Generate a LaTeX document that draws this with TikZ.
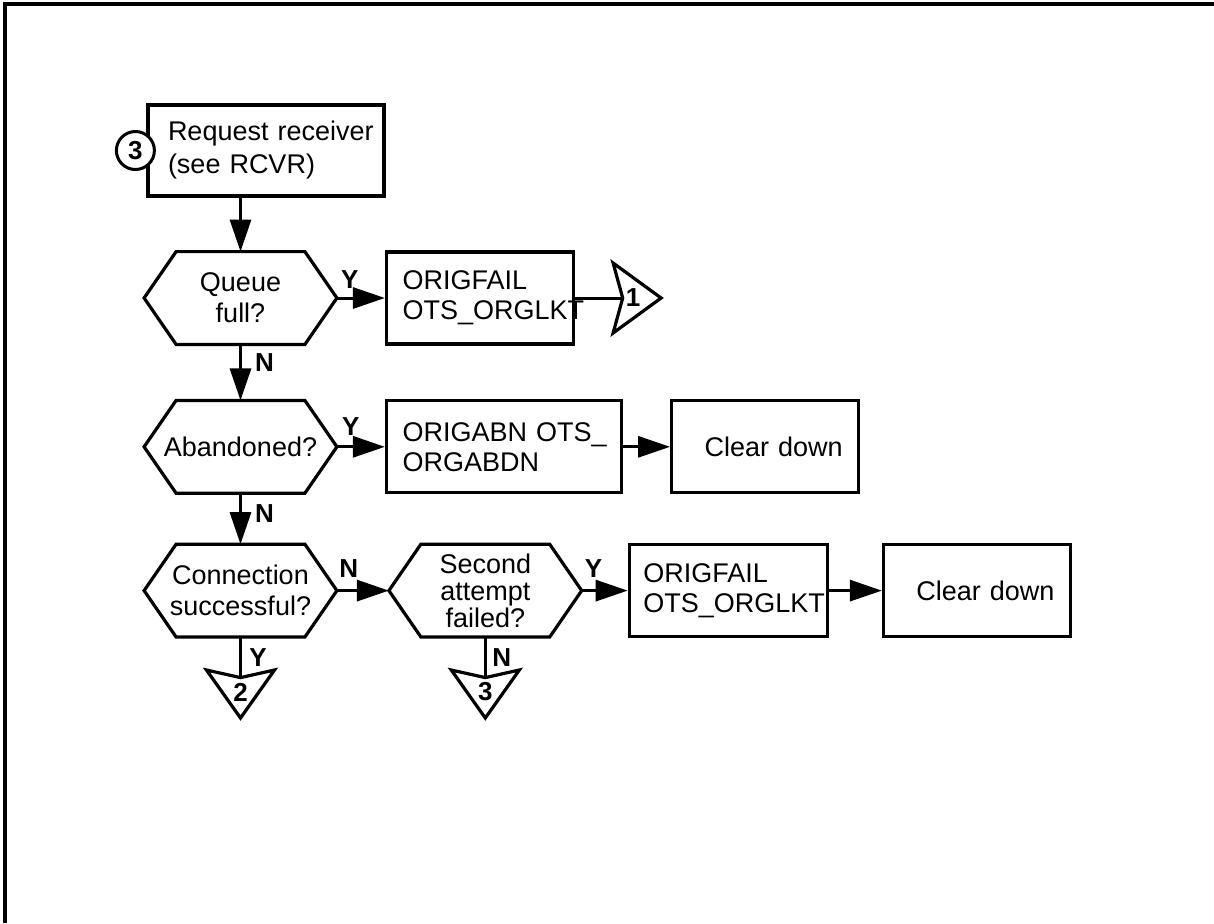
\documentclass[tikz,border=0pt]{standalone}
\usepackage{fontspec}
\setmainfont{Liberation Sans}
\usetikzlibrary{positioning, arrows.meta}

\tikzset{
    box/.style={draw, line width=1.6pt, minimum height=46pt, inner xsep=8pt, align=left,
        font=\fontsize{13.5pt}{15pt}\selectfont},
    hexa/.style={minimum width=96pt, minimum height=46pt, inner sep=0pt, align=center,
        font=\fontsize{13.5pt}{15.5pt}\selectfont},
    outline/.style={line width=1.6pt, line join=miter},
    offp/.style={minimum width=10pt, minimum height=14pt, inner sep=0pt,
        font=\bfseries\fontsize{13pt}{14pt}\selectfont},
    yn/.style={inner sep=0pt, font=\bfseries\fontsize{13pt}{14pt}\selectfont},
    arr/.style={line width=1.5pt, -{Triangle[length=16pt, width=10.5pt]}},
    ln/.style={line width=1.5pt}
}

\begin{document}
\begin{tikzpicture}[x=0.5pt, y=-0.5pt]
    \useasboundingbox (0,0) rectangle (1214,923);
    \draw[line width=2pt] (5,923) -- (5,3.5) -- (1214,3.5);

    \node[hexa] (q) at (240.5,298) {Queue\\full?};
    \node[box, text width=98pt, inner xsep=10pt, inner ysep=1pt, minimum height=45.5pt,
        above=27pt of q, xshift=12.75pt, font=\fontsize{13.5pt}{16.5pt}\selectfont] (r)
        {\mbox{Request receiver}\\(see RCVR)};
    \node[circle, draw, line width=1.5pt, fill=white, minimum size=19pt, inner sep=0pt,
        font=\bfseries\fontsize{13pt}{14pt}\selectfont] (k) at ([xshift=-5.5pt]r.west) {3};
    \node[hexa, below=28pt of q] (a) {Abandoned?};
    \node[hexa, below=25.5pt of a] (c) {Connection\\successful?};
    \node[hexa, right=26pt of c, font=\fontsize{13.5pt}{13.5pt}\selectfont] (s) {Second\\attempt\\failed?};

    \node[box, text width=77.5pt, right=24pt of q] (f1) {ORIGFAIL\\\mbox{OTS\_ORGLKT}};
    \node[box, text width=101.5pt, right=24pt of a] (o) {\mbox{ORIGABN OTS\_}\\ORGABDN};
    \node[box, text width=77.5pt, align=right, right=23.5pt of o] (d1) {Clear down};
    \node[box, text width=85pt, inner xsep=7pt, right=23pt of s] (f2) {ORIGFAIL\\\mbox{OTS\_ORGLKT}};
    \node[box, text width=77.5pt, align=right, right=26.5pt of f2] (d2) {Clear down};

    \node[offp] (t1) at ([xshift=29pt]f1.east) {1};
    \node[offp] (t2) at ([yshift=-27.5pt]c.south) {2};
    \node[offp] (t3) at ([yshift=-27.5pt]s.south) {3};

    \foreach \n in {q,a,c,s}
        \draw[outline] ([xshift=16pt]\n.north west) -- ([xshift=-16pt]\n.north east) -- (\n.east)
            -- ([xshift=-16pt]\n.south east) -- ([xshift=16pt]\n.south west) -- (\n.west) -- cycle;
    \draw[outline] (t1.west) -- ([shift={(-10pt,17.5pt)}]t1.center) -- ([xshift=14pt]t1.center)
        -- ([shift={(-10pt,-17.5pt)}]t1.center) -- cycle;
    \foreach \n in {t2,t3}
        \draw[outline] (\n.north) -- ([shift={(17pt,11pt)}]\n.center) -- ([yshift=-13pt]\n.center)
            -- ([shift={(-17pt,11pt)}]\n.center) -- cycle;

    \draw[arr] (q.north |- r.south) -- (q.north);
    \draw[arr] (q.east) -- node[yn, pos=0.27, above=3.9pt] (yq) {Y} (f1.west);
    \draw[ln] (f1.east) -- (t1.west);
    \draw[arr] (q.south) -- node[yn, pos=0.33, right=6.5pt] (nq) {N} (a.north);
    \draw[arr] (a.east) -- node[yn, pos=0.29, above=4.9pt] (ya) {Y} (o.west);
    \draw[arr] (o.east) -- (d1.west);
    \draw[arr] (a.south) -- node[yn, pos=0.4, right=6.5pt] (na) {N} (c.north);
    \draw[arr] (c.east) -- node[yn, pos=0.23, above=5.9pt] (nc) {N} (s.west);
    \draw[ln] (c.south) -- node[yn, pos=0.5, right=3.7pt] (yc) {Y} (t2.north);
    \draw[arr] (s.east) -- node[yn, pos=0.26, above=5.9pt] (ys) {Y} (f2.west);
    \draw[ln] (s.south) -- node[yn, pos=0.5, right=2.8pt] (ns) {N} (t3.north);
    \draw[arr] (f2.east) -- (d2.west);
\end{tikzpicture}
\end{document}
